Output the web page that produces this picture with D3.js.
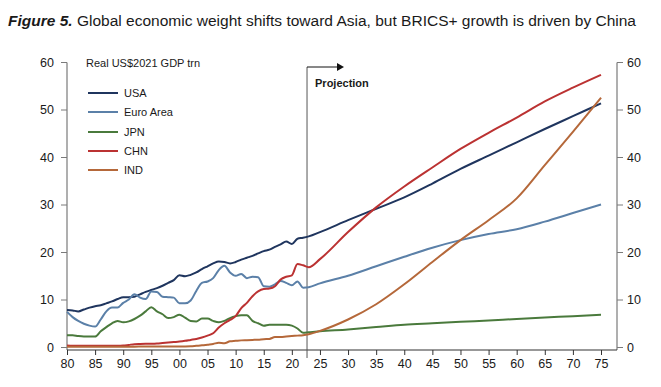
<!DOCTYPE html>
<html>
<head>
<meta charset="utf-8">
<script src="https://cdn.jsdelivr.net/npm/d3@7"></script>
<style>
  html, body { margin: 0; padding: 0; background: #fff; }
  svg { display: block; font-family: "Liberation Sans", Arial, sans-serif; }
</style>
</head>
<body>
<svg id="chart" width="661" height="387"></svg>
<script>
// ---------------- DATA ----------------
const years = [
  1980,1981,1982,1983,1984,1985,1986,1987,1988,1989,
  1990,1991,1992,1993,1994,1995,1996,1997,1998,1999,
  2000,2001,2002,2003,2004,2005,2006,2007,2008,2009,
  2010,2011,2012,2013,2014,2015,2016,2017,2018,2019,
  2020,2021,2022,2023,
  2025,2030,2035,2040,2045,2050,2055,2060,2065,2070,2075
];
const usa = [
  7.9,7.8,7.6,8.0,8.4,8.7,8.9,9.3,9.7,10.2,
  10.6,10.6,10.7,11.2,11.7,12.1,12.5,13.0,13.6,14.2,
  15.2,15.0,15.3,15.8,16.5,17.1,17.7,18.1,18.0,17.7,
  18.0,18.5,18.9,19.3,19.8,20.3,20.6,21.2,21.7,22.3,
  21.8,22.9,23.1,23.4,
  24.3,26.8,29.2,31.6,34.5,37.6,40.4,43.2,46.0,48.7,51.4
];
const euroArea = [
  7.5,6.4,5.6,5.0,4.6,4.4,5.9,7.6,8.4,8.4,
  9.4,10.1,11.2,10.5,10.2,11.8,11.7,10.7,10.6,10.5,
  9.3,9.3,9.9,11.9,13.6,13.9,14.6,16.3,17.2,15.8,
  15.1,15.5,14.6,14.9,14.8,12.9,12.8,13.3,14.0,13.6,
  13.1,13.9,12.6,12.7,
  13.5,15.1,17.1,19.1,21.0,22.6,23.9,24.9,26.5,28.3,30.1
];
const jpn = [
  2.6,2.6,2.4,2.3,2.3,2.3,3.4,4.3,5.1,5.6,
  5.3,5.5,6.0,6.7,7.6,8.5,7.6,7.0,6.2,6.4,
  6.9,6.3,5.6,5.5,6.1,6.1,5.6,5.3,5.6,6.2,
  6.6,6.8,6.8,5.6,5.1,4.6,4.8,4.8,4.8,4.8,
  4.6,4.0,3.1,3.2,
  3.4,3.8,4.3,4.8,5.1,5.4,5.7,6.0,6.3,6.6,6.9
];
const chn = [
  0.4,0.35,0.35,0.35,0.35,0.35,0.35,0.35,0.35,0.35,
  0.4,0.55,0.7,0.75,0.78,0.8,0.85,0.95,1.05,1.15,
  1.25,1.4,1.6,1.8,2.1,2.5,3.0,4.2,5.1,5.8,
  6.6,8.3,9.4,10.8,11.8,12.3,12.4,12.9,14.3,14.9,
  15.2,17.6,17.3,16.9,
  18.6,24.3,29.5,33.9,37.9,41.8,45.2,48.4,51.8,54.7,57.4
];
const ind = [
  0.15,0.15,0.15,0.15,0.15,0.16,0.16,0.17,0.17,0.18,
  0.18,0.18,0.18,0.19,0.19,0.2,0.2,0.2,0.21,0.21,
  0.22,0.22,0.25,0.35,0.45,0.6,0.75,1.0,0.9,1.3,
  1.4,1.5,1.55,1.6,1.65,1.75,1.8,2.2,2.2,2.3,
  2.4,2.5,2.6,2.8,
  3.5,5.9,9.1,13.3,18.0,22.6,26.8,31.4,38.4,45.4,52.6
];
const seriesNames = ["USA","Euro Area","JPN","CHN","IND"];
const seriesValues = [usa, euroArea, jpn, chn, ind];
const seriesColors = ["#1f355e","#5b80a8","#4a7a3c","#bb3232","#b5683a"];
const xTicks = [1980,1985,1990,1995,2000,2005,2010,2015,2020,2025,2030,2035,2040,2045,2050,2055,2060,2065,2070,2075];
const yTicks = [0,10,20,30,40,50,60];
const projectionYear = 2022.7;
const titleBold = "Figure 5.";
const titleRest = " Global economic weight shifts toward Asia, but BRICS+ growth is driven by China";
const unitLabel = "Real US$2021 GDP trn";
const projectionLabel = "Projection";

// ---------------- CHART ----------------
const svg = d3.select("#chart");
const x = d3.scaleLinear().domain([1980, 2075]).range([67, 601]);
const y = d3.scaleLinear().domain([0, 60]).range([347.5, 62.5]);
const axisLeftX = 67, axisRightX = 617, axisBottomY = 350;
const axisColor = "#7a7a7a";
const textColor = "#1a1a1a";

// Title
const title = svg.append("text")
  .attr("x", 8).attr("y", 26)
  .attr("font-size", 15.5)
  .attr("fill", textColor)
  .attr("textLength", 628)
  .attr("lengthAdjust", "spacingAndGlyphs");
title.append("tspan").attr("font-weight", "bold").attr("font-style", "italic").text(titleBold);
title.append("tspan").text(titleRest);

// Axes lines
svg.append("line").attr("x1", axisLeftX).attr("x2", axisLeftX).attr("y1", y(60)).attr("y2", axisBottomY)
  .attr("stroke", axisColor).attr("stroke-width", 1.2);
svg.append("line").attr("x1", axisRightX).attr("x2", axisRightX).attr("y1", y(60)).attr("y2", axisBottomY)
  .attr("stroke", axisColor).attr("stroke-width", 1.2);
svg.append("line").attr("x1", axisLeftX).attr("x2", axisRightX).attr("y1", axisBottomY).attr("y2", axisBottomY)
  .attr("stroke", "#333").attr("stroke-width", 1.2);

// Left y axis ticks
const yl = svg.append("g");
yTicks.forEach(t => {
  yl.append("line").attr("x1", axisLeftX - 6).attr("x2", axisLeftX).attr("y1", y(t)).attr("y2", y(t))
    .attr("stroke", axisColor).attr("stroke-width", 1);
  yl.append("text").attr("x", 54).attr("y", y(t)).attr("dy", "0.35em")
    .attr("text-anchor", "end").attr("font-size", 12.5).attr("fill", textColor).text(t);
  yl.append("line").attr("x1", axisRightX).attr("x2", axisRightX + 6).attr("y1", y(t)).attr("y2", y(t))
    .attr("stroke", axisColor).attr("stroke-width", 1);
  yl.append("text").attr("x", 627).attr("y", y(t)).attr("dy", "0.35em")
    .attr("text-anchor", "start").attr("font-size", 12.5).attr("fill", textColor).text(t);
});

// Bottom x axis
const xg = svg.append("g").attr("transform", `translate(0,${axisBottomY})`);
const xAxis = d3.axisBottom(x).tickValues(xTicks).tickSize(5).tickPadding(4)
  .tickFormat(d => String(d % 100).padStart(2, "0"));
xg.call(xAxis);
xg.select(".domain").remove();
xg.selectAll(".tick line").attr("stroke", "#333");
xg.selectAll(".tick text").attr("font-size", 12.5).attr("fill", textColor)
  .attr("font-family", "Liberation Sans, Arial, sans-serif");

// Projection marker
const px = x(projectionYear);
svg.append("line").attr("x1", px).attr("x2", px).attr("y1", 67).attr("y2", 358)
  .attr("stroke", "#555").attr("stroke-width", 1);
svg.append("line").attr("x1", px).attr("x2", px + 31).attr("y1", 67).attr("y2", 67)
  .attr("stroke", "#111").attr("stroke-width", 1);
svg.append("path").attr("d", `M${px + 30},63 L${px + 37},67 L${px + 30},71 Z`).attr("fill", "#111");
svg.append("text").attr("x", px + 8).attr("y", 87).attr("font-size", 11).attr("font-weight", "bold")
  .attr("fill", textColor).text(projectionLabel);

// Lines
const line = d3.line().x((d, i) => x(years[i])).y(d => y(d)).curve(d3.curveMonotoneX);
seriesValues.forEach((vals, k) => {
  svg.append("path").datum(vals)
    .attr("d", line)
    .attr("fill", "none")
    .attr("stroke", seriesColors[k])
    .attr("stroke-width", 2)
    .attr("stroke-linejoin", "round");
});

// Legend
svg.append("text").attr("x", 86).attr("y", 67).attr("font-size", 11).attr("fill", textColor).text(unitLabel);
const legendY = [93, 112, 132, 151, 170];
seriesNames.forEach((n, k) => {
  svg.append("line").attr("x1", 88).attr("x2", 118).attr("y1", legendY[k]).attr("y2", legendY[k])
    .attr("stroke", seriesColors[k]).attr("stroke-width", 2);
  svg.append("text").attr("x", 124).attr("y", legendY[k]).attr("dy", "0.35em")
    .attr("font-size", 11).attr("fill", textColor).text(n);
});
</script>
</body>
</html>
